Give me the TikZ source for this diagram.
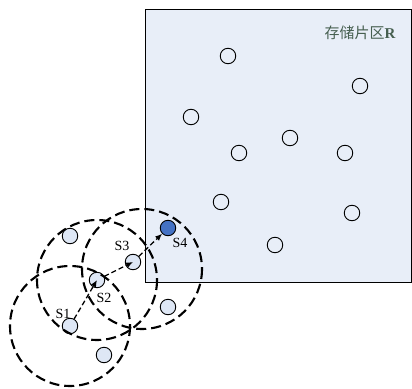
\documentclass[tikz,border=0pt]{standalone}
\usepackage{fontspec}
\setmainfont{Liberation Serif}
\newfontfamily\cjk{Noto Sans CJK SC}
\usetikzlibrary{arrows.meta}
\definecolor{zonefill}{RGB}{232,238,248}
\definecolor{sensorfill}{RGB}{222,231,245}
\definecolor{sinkfill}{RGB}{68,114,196}
\definecolor{zonetext}{RGB}{70,95,80}
\tikzset{
    sensor/.style={circle,draw=black,line width=0.9pt,fill=sensorfill,minimum size=15.5pt,inner sep=0pt},
    commrange/.style={draw=black,line width=2.1pt,dash pattern=on 10pt off 5pt},
    hop/.style={draw=black,line width=1.3pt,dash pattern=on 5pt off 3pt,-{Latex[length=7pt,width=6pt]}},
    slabel/.style={font=\fontsize{14}{14}\selectfont}
}
\begin{document}
\begin{tikzpicture}[x=1pt,y=-1pt]
    \useasboundingbox[fill=white] (0,0) rectangle (412,388);
    \filldraw[fill=zonefill,draw=black,line width=0.9pt] (145,9) rectangle (411,282);
    \node[text=zonetext,font=\fontsize{15}{15}\selectfont] (zone) at (360,33) {{\cjk 存储片区}\textbf{R}};
    % sensors inside the zone
    \foreach \px/\py [count=\i] in {228/56,360/86,191/117,290/138,239/153,345/153,221/202,352/213,275/245}{
        \node[sensor,fill=zonefill] (z\i) at (\px,\py) {};
    }
    % sensors outside the zone
    \foreach \px/\py [count=\i] in {70/236,168/307,104/355}{
        \node[sensor] (o\i) at (\px,\py) {};
    }
    \node[sensor] (s1) at (70,326) {};
    \node[sensor] (s2) at (97,280) {};
    \node[sensor] (s3) at (133,262) {};
    \node[sensor,fill=sinkfill] (s4) at (168,228) {};
    \node[slabel] (l1) at (63,314) {S1};
    \node[slabel] (l2) at (104,298) {S2};
    \node[slabel] (l3) at (122,246) {S3};
    \node[slabel] (l4) at (180,243) {S4};
    % communication ranges
    \draw[commrange] (s1) circle (60);
    \draw[commrange] (s2) circle (60);
    \draw[commrange] (142,269) circle (60);
    % forwarding path
    \draw[hop] (s1) -- (s2.center);
    \draw[hop] (s2) -- (s3.center);
    \draw[hop] (s3) -- (s4);
\end{tikzpicture}
\end{document}
